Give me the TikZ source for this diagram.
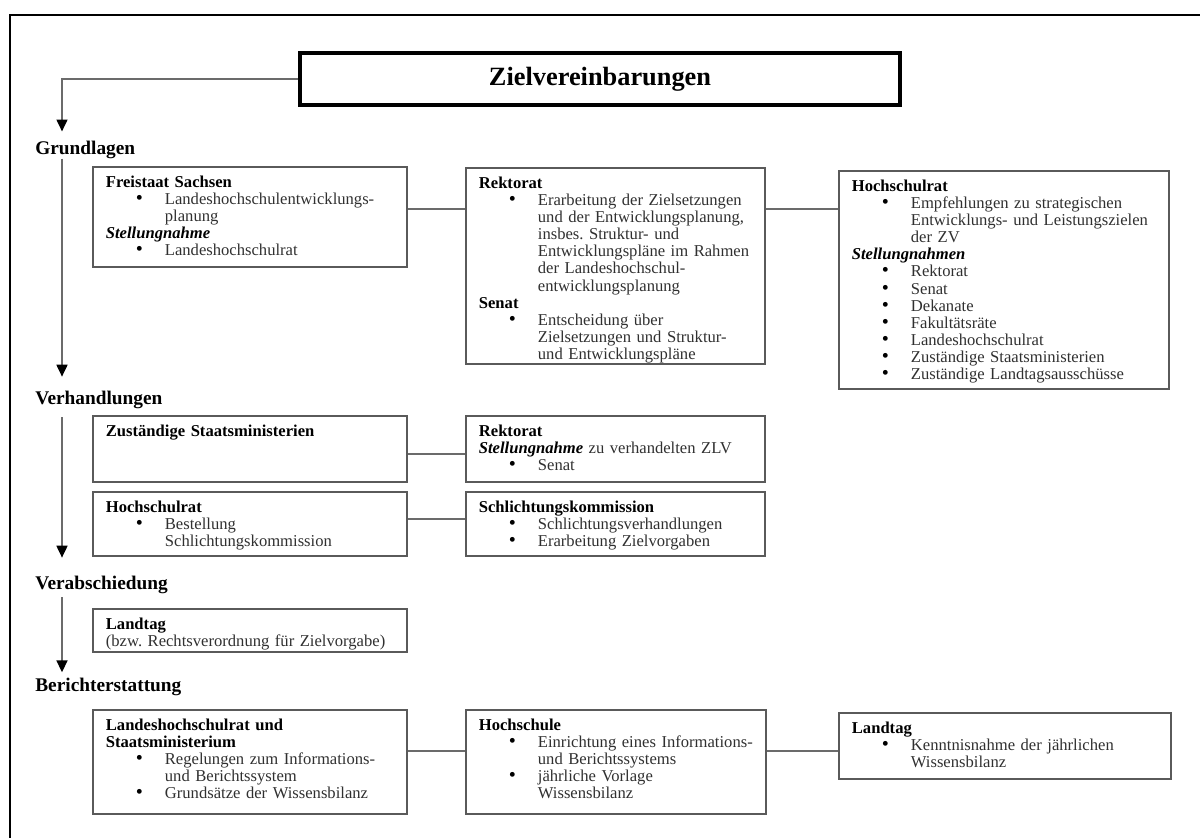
\documentclass[tikz,border=0pt]{standalone}
\usepackage{fontspec}
\setmainfont{Liberation Serif}
\usepackage{tikz}
\usetikzlibrary{arrows.meta,fit,calc}

\definecolor{linegray}{HTML}{6B6B6B}
\definecolor{boxgray}{HTML}{5A5A5A}
\definecolor{txtgray}{HTML}{303030}

\newcommand\bodyfont{\fontsize{9.45}{9.73}\selectfont}
\newcommand\hd[1]{\par\leftskip=0pt\noindent{\color{black}\bfseries #1}}
\newcommand\sn[1]{\par\leftskip=0pt\noindent{\color{black}\bfseries\itshape #1}}
\newcommand\itm{\par\leftskip=33.6pt\noindent\llap{{\color{black}\fontsize{11.5}{0}\selectfont\textbullet}\hspace{12.5pt}}}

\begin{document}
\begin{tikzpicture}[x=0.02cm, y=-0.02cm,
	>={Triangle[black,length=6.8pt,width=6.2pt]},
	box/.style={draw=boxgray, line width=1.1pt, inner sep=0pt},
	txt/.style={anchor=north west, inner sep=0pt, align=left, text=txtgray, font=\bodyfont},
	sect/.style={anchor=base west, inner sep=0pt, font=\fontsize{11}{13}\selectfont\bfseries},
	flow/.style={->, draw=linegray, line width=1.1pt},
	link/.style={draw=linegray, line width=1.1pt}]

	\useasboundingbox (0,0) rectangle (1200,838);
	\draw[line width=1.4pt] (10,838) -- (10,15) -- (1200,15);

	\node[draw, line width=1.8pt, minimum width=12cm, minimum height=1.04cm,
	      font=\fontsize{15}{18}\selectfont\bfseries] (zv) at (600,79) {Zielvereinbarungen};

	\coordinate (ax) at (62,0);

	\node[sect] (grund) at (35,154) {Grundlagen};
	\node[sect] (verh) at (35,404.5) {Verhandlungen};
	\node[sect] (verab) at (35,589) {Verabschiedung};
	\node[sect] (bericht) at (35,691) {Berichterstattung};

	% Grundlagen
	\node[box, fit={(93,167) (407,267)}] (fs) {};
	\node[box, fit={(466,168) (765,364)}] (rk1) {};
	\node[box, fit={(839,171) (1169,389)}] (hr1) {};
	\node[txt, text width=5.8cm] (fs-t) at ($(fs.north west)+(13.5,4)$)
	    {\hd{Freistaat Sachsen}\itm Landeshochschulentwicklungs-\\planung\sn{Stellungnahme}\itm Landeshochschulrat\par};
	\node[txt, text width=5.7cm] (rk1-t) at ($(rk1.north west)+(13.5,4)$)
	    {\hd{Rektorat}\itm Erarbeitung der Zielsetzungen\\und der Entwicklungsplanung,\\insbes.\ Struktur- und\\Entwicklungspläne im Rahmen\\der Landeshochschul-\\entwicklungsplanung\hd{Senat}\itm Entscheidung über\\Zielsetzungen und Struktur-\\und Entwicklungspläne\par};
	\node[txt, text width=6.3cm] (hr1-t) at ($(hr1.north west)+(13.5,4)$)
	    {\hd{Hochschulrat}\itm Empfehlungen zu strategischen\\Entwicklungs- und Leistungszielen\\der ZV\sn{Stellungnahmen}\itm Rektorat\itm Senat\itm Dekanate\itm Fakultätsräte\itm Landeshochschulrat\itm Zuständige Staatsministerien\itm Zuständige Landtagsausschüsse\par};

	% Verhandlungen
	\node[box, fit={(93,416) (407,482)}] (zs) {};
	\node[box, fit={(466,416) (765,482)}] (rk2) {};
	\node[box, fit={(93,492) (407,556)}] (hr2) {};
	\node[box, fit={(466,492) (765,556)}] (sk) {};
	\node[txt, text width=5.8cm] (zs-t) at ($(zs.north west)+(13.5,4)$) {\hd{Zuständige Staatsministerien}\par};
	\node[txt, text width=5.7cm] (rk2-t) at ($(rk2.north west)+(13.5,4)$)
	    {\hd{Rektorat}\sn{Stellungnahme} zu verhandelten ZLV\itm Senat\par};
	\node[txt, text width=5.8cm] (hr2-t) at ($(hr2.north west)+(13.5,4)$)
	    {\hd{Hochschulrat}\itm Bestellung\\Schlichtungskommission\par};
	\node[txt, text width=5.7cm] (sk-t) at ($(sk.north west)+(13.5,4)$)
	    {\hd{Schlichtungskommission}\itm Schlichtungsverhandlungen\itm Erarbeitung Zielvorgaben\par};

	% Verabschiedung
	\node[box, fit={(93,609) (407,652)}] (lt1) {};
	\node[txt, text width=5.8cm] (lt1-t) at ($(lt1.north west)+(13.5,4)$)
	    {\hd{Landtag}\\(bzw.\ Rechtsverordnung für Zielvorgabe)\par};

	% Berichterstattung
	\node[box, fit={(93,710) (407,814)}] (lh) {};
	\node[box, fit={(466,710) (766,814)}] (hs) {};
	\node[box, fit={(839,713) (1171,779)}] (lt2) {};
	\node[txt, text width=5.8cm] (lh-t) at ($(lh.north west)+(13.5,4)$)
	    {\hd{Landeshochschulrat und}\hd{Staatsministerium}\itm Regelungen zum Informations-\\und Berichtssystem\itm Grundsätze der Wissensbilanz\par};
	\node[txt, text width=5.7cm] (hs-t) at ($(hs.north west)+(13.5,4)$)
	    {\hd{Hochschule}\itm Einrichtung eines Informations-\\und Berichtssystems\itm jährliche Vorlage\\Wissensbilanz\par};
	\node[txt, text width=6.3cm] (lt2-t) at ($(lt2.north west)+(13.5,4)$)
	    {\hd{Landtag}\itm Kenntnisnahme der jährlichen\\Wissensbilanz\par};

	\coordinate (r1) at (0,209);
	\coordinate (r2) at (0,454);
	\coordinate (r3) at (0,519);
	\coordinate (r4) at (0,751);
	\draw[link] (fs.east |- r1) -- (rk1.west |- r1);
	\draw[link] (rk1.east |- r1) -- (hr1.west |- r1);
	\draw[link] (zs.east |- r2) -- (rk2.west |- r2);
	\draw[link] (hr2.east |- r3) -- (sk.west |- r3);
	\draw[link] (lh.east |- r4) -- (hs.west |- r4);
	\draw[link] (hs.east |- r4) -- (lt2.west |- r4);

	\draw[flow, shorten >=5pt] (zv.west) -| (grund.north -| ax);
	\draw[flow, shorten >=8pt] (grund.south -| ax) -- (verh.north -| ax);
	\draw[flow, shorten <=4.5pt, shorten >=10pt] (verh.south -| ax) -- (verab.north -| ax);
	\draw[flow, shorten <=2pt, shorten >=2.8pt] (verab.south -| ax) -- (bericht.north -| ax);
\end{tikzpicture}
\end{document}
